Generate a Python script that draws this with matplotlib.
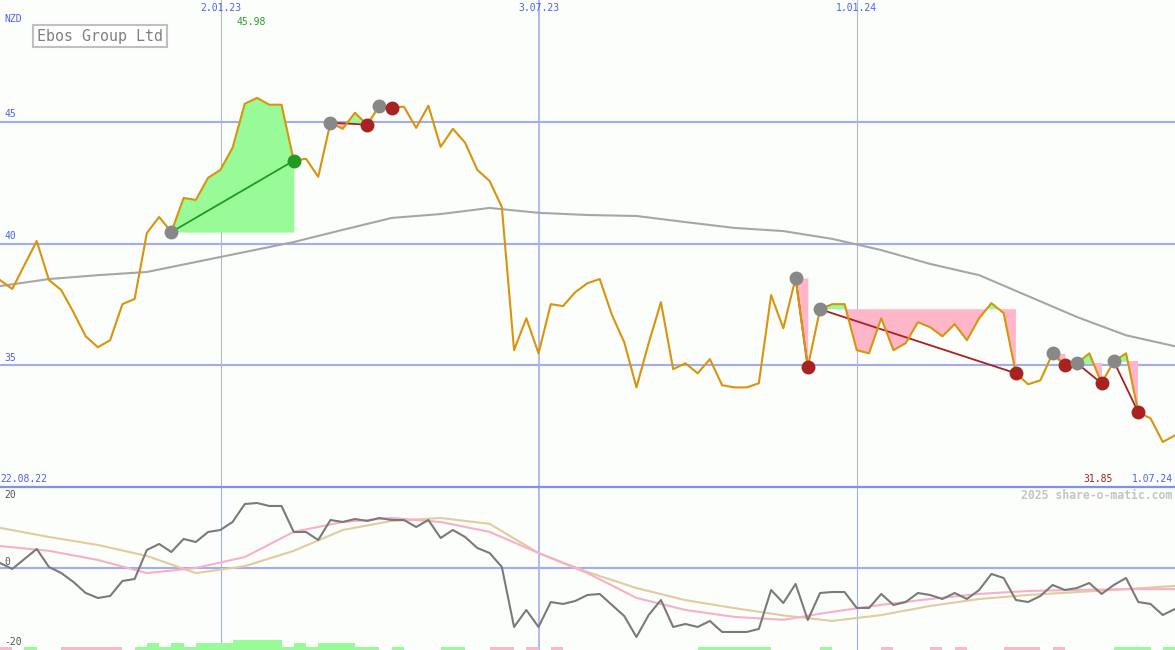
import matplotlib.pyplot as plt
import numpy as np

# weekly closing prices (NZD), 22.08.22 .. 1.07.24
price = [38.50, 38.13, 39.12, 40.10, 38.50, 38.09, 37.18, 36.19, 35.74, 36.03,
         37.51, 37.72, 40.43, 41.09, 40.47, 41.87, 41.79, 42.70, 43.02, 43.93,
         45.74, 45.98, 45.70, 45.70, 43.40, 43.48, 42.74, 44.96, 44.71, 45.37,
         44.88, 45.66, 45.58, 45.62, 44.75, 45.66, 43.97, 44.71, 44.14, 43.02,
         42.57, 41.50, 35.62, 36.93, 35.49, 37.51, 37.43, 38.00, 38.37, 38.54,
         37.06, 35.95, 34.09, 35.91, 37.59, 34.84, 35.08, 34.67, 35.25, 34.18,
         34.09, 34.09, 34.26, 37.88, 36.52, 38.58, 34.92, 37.30, 37.51, 37.51,
         35.62, 35.49, 36.93, 35.62, 35.91, 36.77, 36.56, 36.19, 36.69, 36.03,
         36.93, 37.55, 37.14, 34.67, 34.22, 34.38, 35.49, 35.00, 35.08, 35.49,
         34.26, 35.16, 35.49, 33.07, 32.82, 31.85, 32.12]

# long moving average, read every 4 weeks
ma_idx = list(range(0, 97, 4))
ma = [38.25, 38.54, 38.70, 38.83, 39.24, 39.65, 40.06, 40.56, 41.05, 41.21,
      41.46, 41.26, 41.17, 41.13, 40.88, 40.64, 40.51, 40.19, 39.73, 39.16,
      38.70, 37.84, 36.98, 36.23, 35.78]

# trades: entry week -> exit week
entries = [14, 27, 31, 65, 67, 86, 88, 91]
exits = [24, 30, 32, 66, 83, 87, 90, 93]

# oscillator panel
osc = [1.37, -0.27, 2.47, 5.21, 0.27, -1.37, -3.84, -6.85, -8.22, -7.67,
       -3.56, -3.01, 4.93, 6.58, 4.38, 7.95, 7.12, 9.86, 10.41, 12.60,
       17.53, 17.81, 16.99, 16.99, 9.86, 9.86, 7.67, 13.15, 12.60, 13.42,
       12.88, 13.70, 13.15, 13.15, 11.23, 13.15, 8.22, 10.41, 8.49, 5.48,
       4.11, 0.30, -16.16, -11.51, -16.16, -9.32, -9.86, -9.04, -7.40, -7.12,
       -10.14, -13.15, -18.90, -12.88, -8.77, -16.16, -15.34, -16.16, -14.52, -17.53,
       -17.53, -17.53, -16.71, -6.03, -9.59, -4.38, -14.25, -6.85, -6.58, -6.58,
       -10.96, -10.96, -7.12, -10.14, -9.32, -6.85, -7.40, -8.49, -6.85, -8.49,
       -6.03, -1.64, -2.74, -8.77, -9.32, -7.67, -4.66, -6.03, -5.48, -4.11,
       -7.12, -4.66, -2.74, -9.32, -9.86, -12.88, -11.23]
sig_fast = [6.0, 4.7, 2.2, -1.4, 0.0, 3.0, 9.9, 12.6, 13.7, 12.6,
            9.9, 4.1, -1.4, -8.2, -11.5, -13.4, -14.2, -12.0, -10.1, -8.5,
            -7.1, -6.3, -6.0, -5.8, -5.8]
sig_slow = [11.0, 8.5, 6.3, 3.3, -1.4, 0.5, 4.7, 10.4, 12.9, 13.7,
            12.1, 4.1, -1.1, -5.5, -8.8, -11.0, -13.0, -14.5, -12.9, -10.4,
            -8.5, -7.4, -6.6, -5.8, -4.9]
# trend bars under the oscillator: -1 pink, 1..3 green height
bars = [-1, 0, 1, 0, 0, -1, -1, -1, -1, -1, 0, 1, 2, 1, 2, 1, 2, 2, 2, 3,
        3, 3, 3, 1, 2, 1, 2, 2, 2, 1, 1, 0, 1, 0, 0, 0, 1, 1, 0, 0,
        -1, -1, 0, -1, 0, -1, 0, 0, 0, 0, 0, 0, 0, 0, 0, 0, 0, 1, 1, 1,
        1, 1, 1, 0, 0, 0, 0, 1, 0, 0, 0, 0, -1, 0, 0, 0, -1, 0, -1, 0,
        0, 0, -1, -1, -1, 0, -1, 0, 0, 0, 0, 1, 1, 1, 0, 1]

date_labels = ['2.01.23', '3.07.23', '1.01.24']
date_pos = [18.06, 44.04, 70.0]

x = np.arange(len(price))
p = np.array(price)
bg = '#fbfefb'
blue = '#a3acf0'
txtblue = '#4f5ff0'
mono = 'DejaVu Sans Mono'

fig = plt.figure(figsize=(11.75, 6.5), dpi=100, facecolor=bg)
ax1 = fig.add_axes([0, 163/650, 1, 487/650])
ax2 = fig.add_axes([0, 0, 1, 163/650])
for ax in (ax1, ax2):
    ax.set_facecolor(bg)
    ax.set_xlim(0, 96)
    ax.set_xticks([])
    ax.set_yticks([])
    for s in ax.spines.values():
        s.set_visible(False)

ax1.set_ylim(30, 50)
for lvl in [35, 40, 45]:
    ax1.axhline(lvl, color=blue, lw=1.5, zorder=1)
    ax1.text(0.004, lvl + 0.1, str(lvl), transform=ax1.get_yaxis_transform(),
             color=txtblue, fontsize=7, family=mono, va='bottom')
for d, pos in zip(date_labels, date_pos):
    c, w = (blue, 1.2) if d.startswith('3.07') else ('#b8b8c4', 0.8)
    ax1.axvline(pos, color=c, lw=w, zorder=1)
    ax2.axvline(pos, color=blue, lw=w, zorder=1)
    ax1.text(pos, 0.984, d, transform=ax1.get_xaxis_transform(), color=txtblue,
             fontsize=7, family=mono, ha='center', va='center')

ax1.plot(ma_idx, ma, color='#a6a6a6', lw=1.5, zorder=2)

for a, b in zip(entries, exits):
    xs = x[a:b + 1]
    ys = p[a:b + 1]
    lvl = p[a]
    ax1.fill_between(xs, lvl, ys, where=ys >= lvl, interpolate=True,
                     color='#98fb98', lw=0, zorder=3)
    ax1.fill_between(xs, lvl, ys, where=ys <= lvl, interpolate=True,
                     color='#ffb6c8', lw=0, zorder=3)
    win = p[b] > lvl
    ax1.plot([a, b], [lvl, p[b]], color='#229922' if win else '#aa2020',
             lw=1.3, zorder=4)

ax1.plot(x, p, color='#d9940c', lw=1.5, zorder=5)

for a, b in zip(entries, exits):
    ax1.plot(a, p[a], 'o', color='#888888', ms=10, mec='none', zorder=6)
    ax1.plot(b, p[b], 'o', color='#229922' if p[b] > p[a] else '#a82222',
             ms=10, mec='none', zorder=6)

ax1.text(0.004, 0.96, 'NZD', transform=ax1.transAxes, color=txtblue,
         fontsize=7, family=mono, va='center')
ax1.text(0.0315, 0.926, 'Ebos Group Ltd', transform=ax1.transAxes, color='#808080',
         fontsize=10.8, family=mono, va='center',
         bbox=dict(boxstyle='square,pad=0.25', fc='white', ec='#c0c0c0', lw=1.5))
imax = int(np.argmax(p))
imin = int(np.argmin(p))
ax1.text(imax - 0.5, 0.955, f'{p[imax]:.2f}', transform=ax1.get_xaxis_transform(),
         color='#22a022', fontsize=7, family=mono, ha='center', va='center')
ax1.text(0.0, 0.016, '22.08.22', transform=ax1.transAxes, color=txtblue,
         fontsize=7, family=mono, va='center')
ax1.text(0.947, 0.016, f'{p[imin]:.2f}', transform=ax1.transAxes, color='#992222',
         fontsize=7, family=mono, va='center', ha='right')
ax1.text(0.998, 0.016, '1.07.24', transform=ax1.transAxes, color=txtblue,
         fontsize=7, family=mono, va='center', ha='right')

# lower panel
lo, hi = -22.47, 22.19
ax2.set_ylim(lo, hi)
ax2.spines['top'].set_visible(True)
ax2.spines['top'].set_color('#8090f0')
ax2.spines['top'].set_linewidth(1.6)
ax2.axhline(0, color=blue, lw=1.5, zorder=1)
ax2.plot(ma_idx, sig_slow, color='#e0cc9c', lw=1.5, zorder=2)
ax2.plot(ma_idx, sig_fast, color='#f8b0c8', lw=1.5, zorder=3)
ax2.plot(x, osc, color='#7a7a7a', lw=1.5, zorder=4)

px = (hi - lo) / 163
heights = {-1: 3, 1: 3, 2: 7, 3: 10}
for i, v in enumerate(bars):
    if v == 0:
        continue
    ax2.bar(i, heights[v] * px, width=1, bottom=lo, align='edge',
            color='#ffb6c8' if v < 0 else '#98fb98', lw=0, zorder=2)

ax2.text(0.004, 20, '20', transform=ax2.get_yaxis_transform(), color='#555555',
         fontsize=7, family=mono, va='center')
ax2.text(0.004, 0.4, '0', transform=ax2.get_yaxis_transform(), color='#555555',
         fontsize=7, family=mono, va='bottom')
ax2.text(0.004, -20.3, '-20', transform=ax2.get_yaxis_transform(), color='#555555',
         fontsize=7, family=mono, va='center')
ax2.text(0.998, 0.945, '2025 share-o-matic.com', transform=ax2.transAxes,
         color='#c4c4c4', fontsize=8.3, family=mono, weight='bold',
         ha='right', va='center')

fig.savefig('out.png', dpi=100, facecolor=bg)
